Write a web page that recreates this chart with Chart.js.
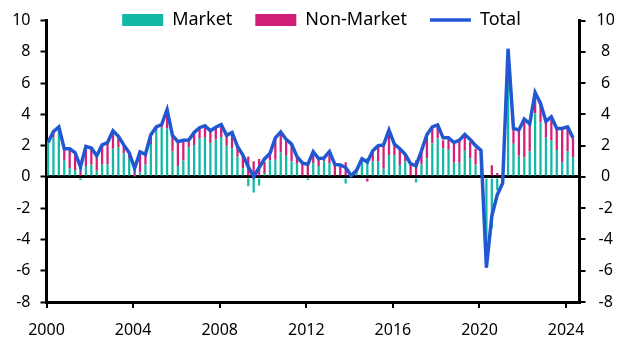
<!DOCTYPE html>
<html>
<head>
<meta charset="utf-8">
<script src="https://cdn.jsdelivr.net/npm/chart.js@4/dist/chart.umd.min.js"></script>
<style>
html,body{margin:0;padding:0;background:#fff;}
#wrap{position:relative;width:631px;height:355px;}
</style>
</head>
<body>
<div id="wrap"><canvas id="c" width="631" height="355"></canvas></div>
<script>
// Quarterly categories 2000Q1 .. 2024Q2
const firstYear = 2000;
const quarterCount = 98;
const quarters = [];
for (let i = 0; i < quarterCount; i++) {
  quarters.push((firstYear + Math.floor(i / 4)) + 'Q' + (i % 4 + 1));
}
const tickYears = [2000, 2004, 2008, 2012, 2016, 2020, 2024];
const yTicks = [-8, -6, -4, -2, 0, 2, 4, 6, 8, 10];

const market = [2.3,2.5,2.9,1.05,0.55,0.45,-0.2,0.7,0.8,0.4,
  0.8,0.8,1.8,1.9,1.5,1.2,0.05,0.3,0.8,2.1,
  3.0,3.15,3.1,1.65,0.7,1.05,1.9,2.05,2.45,2.5,
  2.15,2.4,2.55,2.0,1.85,1.3,0.55,-0.6,-1.0,-0.55,
  0.25,1.05,1.1,1.57,1.36,1.0,0.84,0.0,-0.2,0.88,
  0.7,1.0,0.88,0.0,0.0,-0.42,-0.1,0.3,0.94,1.2,
  1.0,1.0,0.52,1.4,1.4,0.77,1.0,0.0,-0.36,0.8,
  1.2,2.15,2.47,1.84,1.74,0.9,0.9,1.67,1.2,0.8,
  0.4,-5.6,-3.3,-0.85,-0.5,6.1,2.12,1.35,1.25,1.63,
  4.06,3.5,2.5,2.35,1.73,0.94,1.63,1.25];

const nonMarket = [-0.1,0.4,0.3,0.75,1.25,1.1,0.8,1.25,1.05,0.95,
  1.25,1.4,1.15,0.7,0.55,0.35,0.5,1.3,0.65,0.6,
  0.2,0.2,1.2,1.0,1.55,1.3,0.46,0.8,0.7,0.78,
  0.8,0.78,0.8,0.66,1.0,0.65,0.85,1.3,1.0,1.15,
  0.7,0.4,1.4,1.3,1.04,1.1,0.5,0.9,0.95,0.72,
  0.47,0.22,0.72,0.8,0.77,0.94,0.15,0.12,0.22,-0.3,
  0.67,1.0,1.53,1.55,0.7,1.03,0.5,0.84,1.05,0.85,
  1.4,1.0,0.8,0.5,0.7,1.25,1.4,1.0,1.05,1.0,
  1.2,-0.2,0.75,0.25,0.1,1.0,1.0,1.65,2.3,1.7,
  1.24,1.1,1.05,1.3,1.35,2.06,1.47,1.25];

const total = [2.2,2.9,3.2,1.8,1.8,1.55,0.65,1.95,1.85,1.35,
  2.05,2.2,2.95,2.6,2.05,1.55,0.55,1.6,1.45,2.7,
  3.2,3.35,4.3,2.65,2.25,2.35,2.36,2.85,3.15,3.28,
  2.95,3.18,3.35,2.66,2.85,1.95,1.4,0.65,0.0,0.6,
  1.15,1.5,2.5,2.87,2.4,2.1,1.3,0.9,0.8,1.62,
  1.17,1.22,1.62,0.8,0.77,0.6,0.08,0.42,1.16,0.95,
  1.67,2.0,2.05,3.0,2.1,1.8,1.45,0.84,0.72,1.67,
  2.7,3.2,3.33,2.5,2.5,2.2,2.35,2.72,2.4,2.0,
  1.7,-5.8,-2.5,-1.15,-0.4,8.2,3.1,3.0,3.7,3.4,
  5.4,4.7,3.55,3.85,3.1,3.1,3.2,2.5];

// convert quarter label to a position on the time axis
function qPos(label) {
  const y = parseInt(label.slice(0, 4), 10);
  const q = parseInt(label.slice(5), 10);
  return y + (q - 1) / 4 + 0.07;
}
const toPoints = (arr) => arr.map((v, i) => ({x: qPos(quarters[i]), y: v}));

const TEAL = '#13B8A6';
const MAGENTA = '#D41F79';
const BLUE = '#2158D2';

Chart.defaults.font.family = "'Noto Sans', 'DejaVu Sans', sans-serif";
Chart.defaults.color = '#000';

// Legend sits over the plot: it takes no layout height, and is drawn near the top
const legendOverlay = {
  id: 'legendOverlay',
  beforeLayout(chart) {
    const lg = chart.legend;
    if (lg && !lg._wrappedFit) {
      const origFit = lg.fit;
      lg.fit = function () { origFit.call(this); this.height = 0; };
      lg._wrappedFit = true;
    }
  },
  afterLayout(chart) {
    const lg = chart.legend;
    if (lg) { lg.top = -12; lg.bottom = 40; lg.left = 12; lg.right = 631; }
  }
};

new Chart(document.getElementById('c'), {
  type: 'bar',
  data: {
    datasets: [
      {label: 'Market', data: toPoints(market), backgroundColor: TEAL, stack: 's', order: 1,
       barPercentage: 0.42, categoryPercentage: 1.0},
      {label: 'Non-Market', data: toPoints(nonMarket), backgroundColor: MAGENTA, stack: 's', order: 1,
       barPercentage: 0.42, categoryPercentage: 1.0},
      {label: 'Total', type: 'line', data: toPoints(total), borderColor: BLUE, backgroundColor: BLUE,
       borderWidth: 3.5, pointRadius: 0, tension: 0, stack: 't', order: 0}
    ]
  },
  plugins: [legendOverlay],
  options: {
    responsive: false,
    animation: false,
    devicePixelRatio: 1,
    layout: {padding: {left: 0, right: 0, top: 15, bottom: 0}},
    plugins: {
      tooltip: {enabled: false},
      legend: {
        position: 'top',
        align: 'center',
        labels: {
          usePointStyle: true,
          pointStyleWidth: 41,
          boxWidth: 41,
          boxHeight: 12,
          padding: 23,
          color: '#000',
          font: {size: 18},
          generateLabels: (chart) => chart.data.datasets.map((ds, i) => ({
            text: ds.label,
            fillStyle: ds.backgroundColor,
            strokeStyle: ds.type === 'line' ? ds.borderColor : ds.backgroundColor,
            lineWidth: ds.type === 'line' ? 3.5 : 0,
            pointStyle: ds.type === 'line' ? 'line' : 'rect',
            hidden: false,
            datasetIndex: i,
            fontColor: '#000'
          }))
        }
      }
    },
    scales: {
      x: {
        type: 'linear',
        stacked: true,
        offset: false,
        min: 2000,
        max: 2024.62,
        afterFit: (s) => { s.height = 53; },
        afterBuildTicks: (s) => { s.ticks = tickYears.map(v => ({value: v})); },
        ticks: {font: {size: 16}, padding: 13, maxRotation: 0, autoSkip: false,
                callback: (v) => String(v)},
        grid: {offset: false, drawOnChartArea: false, drawTicks: true, tickLength: 6, color: '#000', lineWidth: 2},
        border: {display: true, color: '#000', width: 3}
      },
      y: {
        position: 'left',
        stacked: true,
        min: -8, max: 10,
        afterFit: (s) => { s.width = 46.5; },
        afterBuildTicks: (s) => { s.ticks = yTicks.map(v => ({value: v})); },
        ticks: {font: {size: 16}, padding: 10},
        grid: {
          drawOnChartArea: true,
          drawTicks: true,
          tickLength: 6,
          color: (ctx) => (ctx.tick && ctx.tick.value === 0) ? '#000' : 'rgba(0,0,0,0)',
          lineWidth: 3,
          tickColor: '#000',
          tickWidth: 2
        },
        border: {display: true, color: '#000', width: 3}
      },
      y2: {
        position: 'right',
        min: -8, max: 10,
        afterFit: (s) => { s.width = 51.5; },
        afterBuildTicks: (s) => { s.ticks = yTicks.map(v => ({value: v})); },
        ticks: {font: {size: 16}, padding: 11, crossAlign: 'center'},
        grid: {drawOnChartArea: false, drawTicks: true, tickLength: 6, color: '#000', lineWidth: 2},
        border: {display: true, color: '#000', width: 3}
      }
    }
  }
});
</script>
</body>
</html>
